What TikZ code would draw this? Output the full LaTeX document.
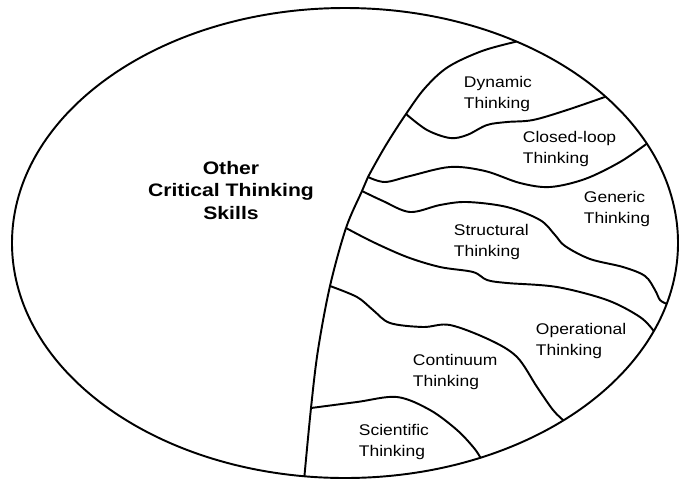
\documentclass[tikz,border=0pt]{standalone}
\usepackage{fontspec}
\setmainfont{Liberation Sans}
\newfontfamily\arealabel[FakeStretch=1.13]{Liberation Sans}
\newfontfamily\otherlabel[FakeStretch=1.17]{Liberation Sans}
\usetikzlibrary{calc}

\begin{document}
\begin{tikzpicture}[x=0.02cm,y=-0.02cm,line width=1.1pt,
    area/.style={anchor=north west,inner sep=0,align=left,font=\arealabel\fontsize{8.8}{12}\selectfont},
    wave/.style={smooth,tension=0.55}]
  \useasboundingbox (0,0) rectangle (679,481);
  \coordinate (c) at (345,243);
  \draw (c) ellipse [x radius=333,y radius=235];
  \coordinate (e1) at ($(c)+(-59:333 and 235)$);
  \coordinate (e2) at ($(c)+(97:333 and 235)$);
  \coordinate (k1) at ($(c)+(-38.5:333 and 235)$);
  \coordinate (k2) at ($(c)+(-25:333 and 235)$);
  \coordinate (k3) at ($(c)+(15:333 and 235)$);
  \coordinate (k4) at ($(c)+(22:333 and 235)$);
  \coordinate (k5) at ($(c)+(49:333 and 235)$);
  \coordinate (k6) at ($(c)+(66:333 and 235)$);
  \coordinate (j1) at (406,114);
  \coordinate (j2) at (368,177);
  \coordinate (j3) at (362,191);
  \coordinate (j4) at (346,228);
  \coordinate (j5) at (330,286);
  \coordinate (j6) at (311,408);
  \draw plot[wave] coordinates {(e1) (482,51) (448,67) (425,88) (j1) (386,145) (j2) (j3) (j4) (j5) (318,350) (j6) (e2)};
  \draw plot[wave] coordinates {(j1) (427,130) (450,138) (467,135) (487,125) (507,122) (533,120) (567,110) (k1)};
  \draw plot[wave] coordinates {(j2) (385,182) (410,176) (450,167) (485,171) (520,183) (550,187) (585,179) (620,162) (k2)};
  \draw plot[wave] coordinates {(j3) (383,201) (410,212) (440,205) (467,202) (507,207) (540,220) (555,235) (565,246) (590,259) (623,267) (645,276) (655,290) (660,300) (k3)};
  \draw plot[wave] coordinates {(j4) (373,242) (407,257) (440,267) (473,272) (487,280) (507,283) (557,287) (607,300) (640,317) (k4)};
  \draw plot[wave] coordinates {(j5) (357,297) (373,310) (390,323) (423,327) (450,325) (490,340) (517,357) (537,387) (553,410) (k5)};
  \draw plot[wave] coordinates {(j6) (357,402) (397,397) (430,410) (457,430) (474,448) (k6)};
  \node[area] (dyn) at (463,75) {Dynamic\\Thinking};
  \node[area] (cloop) at (522,130) {Closed-loop\\Thinking};
  \node[area] (gen) at (583,190) {Generic\\Thinking};
  \node[area] (struct) at (453,223) {Structural\\Thinking};
  \node[area] (oper) at (535,322) {Operational\\Thinking};
  \node[area] (cont) at (412,353) {Continuum\\Thinking};
  \node[area] (sci) at (358,423) {Scientific\\Thinking};
  \node[anchor=north,inner sep=0,align=center,font=\otherlabel\bfseries\fontsize{10.3}{12.8}\selectfont] (other) at (231,160) {Other\\Critical Thinking\\Skills};
\end{tikzpicture}
\end{document}
